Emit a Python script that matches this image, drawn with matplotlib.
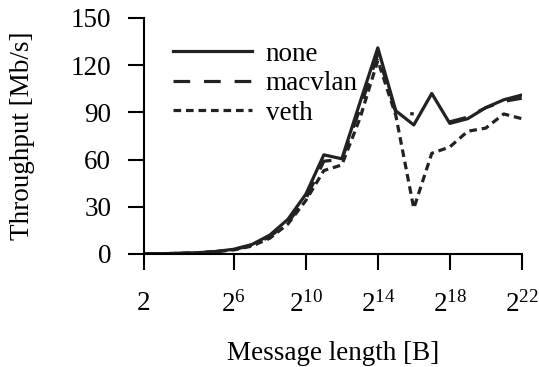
import matplotlib
matplotlib.use("Agg")
import matplotlib.pyplot as plt
import numpy as np

plt.rcParams["font.family"] = ["Liberation Serif", "DejaVu Serif"]
plt.rcParams["mathtext.fontset"] = "custom"
plt.rcParams["mathtext.rm"] = "Liberation Serif"
plt.rcParams["mathtext.it"] = "Liberation Serif"
plt.rcParams["lines.scale_dashes"] = False

# message length exponents: 2^1 .. 2^22
exponents = list(range(1, 23))
none = [0.1, 0.2, 0.4, 0.8, 1.6, 3, 6, 12, 22, 38, 63, 60.5, 96, 131,
        91, 82, 102, 83, 86, 93, 98, 101]
macvlan = [0.1, 0.2, 0.4, 0.8, 1.5, 2.8, 5.5, 11, 20, 35, 59, 60, 92, 127,
           90, 89, np.nan, 84, 87, 93, 97, 99]
veth = [0.1, 0.2, 0.4, 0.7, 1.4, 2.6, 5, 10, 19, 34, 53, 56.6, 86, 123,
        88, 29, 64, 68, 78, 80, 89, 86]

xticks = [1, 6, 10, 14, 18, 22]
xticklabels = ["2", "$2^{6}$", "$2^{10}$", "$2^{14}$", "$2^{18}$", "$2^{22}$"]
yticks = [0, 30, 60, 90, 120, 150]

x = [2.0 ** e for e in exponents]
color = "#222222"
fs = 19.5

fig = plt.figure(figsize=(5.39, 3.67), dpi=100)
ax = fig.add_axes([0.267, 0.308, 0.701, 0.643])

ax.plot(x, none, color=color, linewidth=2.3, label="none")
ax.plot(x, macvlan, color=color, linewidth=2.3, dashes=(12, 10), label="macvlan")
ax.plot(x, veth, color=color, linewidth=2.3, dashes=(5.5, 3.5), label="veth")

ax.set_xscale("log", base=2)
ax.set_xlim(2, 2 ** 22)
ax.set_ylim(0, 150)
ax.set_xticks([2.0 ** e for e in xticks])
ax.set_xticklabels(xticklabels)
ax.minorticks_off()
ax.set_yticks(yticks)

for s in ["top", "right"]:
    ax.spines[s].set_visible(False)
for s in ["left", "bottom"]:
    ax.spines[s].set_linewidth(1.5)
ax.tick_params(axis="both", length=11.5, width=1.5, labelsize=fs, color="black")
ax.tick_params(axis="x", pad=15)
ax.tick_params(axis="y", pad=12)

ax.set_xlabel("Message length [B]", fontsize=fs, labelpad=17)
ax.set_ylabel("Throughput [Mb/s]", fontsize=fs, labelpad=26)

ax.legend(loc="upper left", bbox_to_anchor=(0.077, 0.90), frameon=False,
          fontsize=fs, handlelength=2.9, handletextpad=0.52,
          labelspacing=0.17, borderaxespad=0, borderpad=0)

fig.savefig("out.png", dpi=100)
